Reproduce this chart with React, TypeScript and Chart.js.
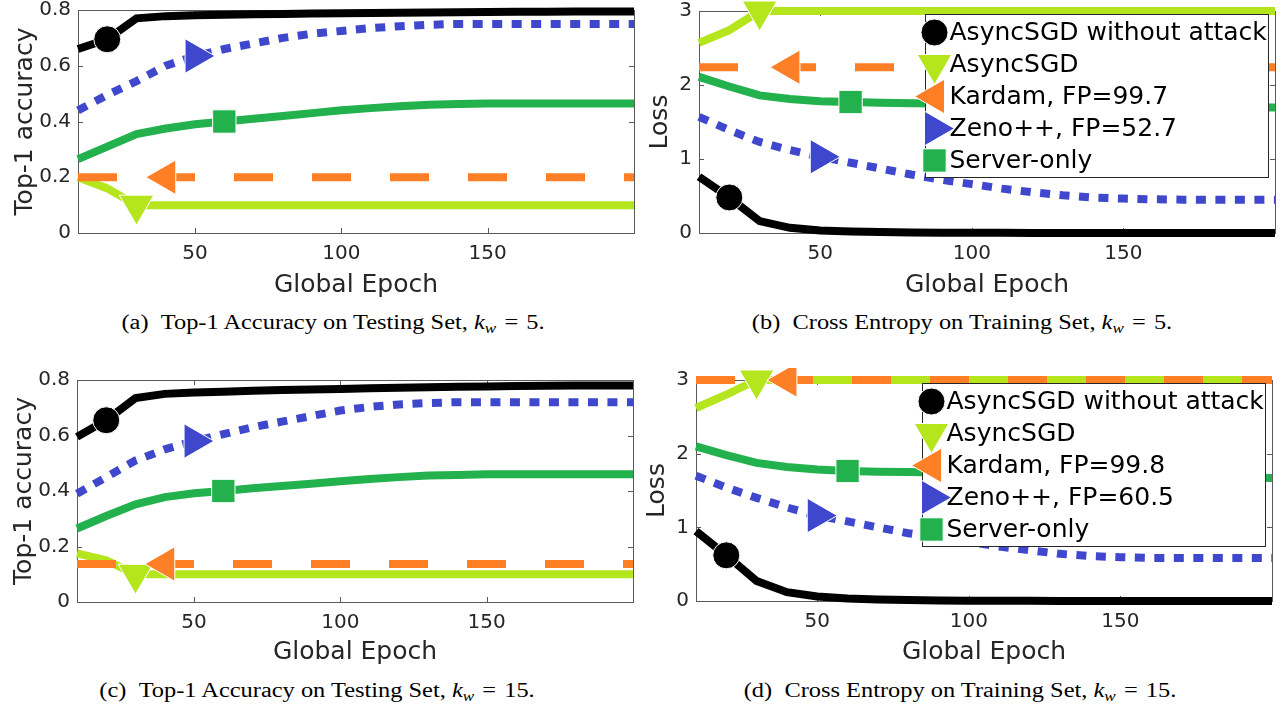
import React, { useEffect, useRef } from 'react';
import { Chart, registerables } from 'chart.js';

Chart.register(...registerables);
Chart.defaults.font.family = '"DejaVu Sans", sans-serif';

// ---------------- data ----------------
const epochs = [10, 20, 30, 40, 50, 60, 70, 80, 90, 100, 110, 120, 130, 140, 150, 160, 170, 180, 190, 200];
const epochTicks = [50, 100, 150];
const accuracyTicks = [0, 0.2, 0.4, 0.6, 0.8];
const lossTicks = [0, 1, 2, 3];
const markerEpochs = [20, 30, 40, 50, 60];

const labelsK5 = ['AsyncSGD without attack', 'AsyncSGD', 'Kardam, FP=99.7', 'Zeno++, FP=52.7', 'Server-only'];
const labelsK15 = ['AsyncSGD without attack', 'AsyncSGD', 'Kardam, FP=99.8', 'Zeno++, FP=60.5', 'Server-only'];

// (a) Top-1 accuracy, k_w = 5
const accK5NoAttack = [0.66, 0.695, 0.77, 0.778, 0.781, 0.783, 0.785, 0.786, 0.787, 0.788, 0.789, 0.79, 0.791, 0.792, 0.793, 0.794, 0.794, 0.795, 0.795, 0.795];
const accK5Async = [0.2, 0.16, 0.1, 0.1, 0.1, 0.1, 0.1, 0.1, 0.1, 0.1, 0.1, 0.1, 0.1, 0.1, 0.1, 0.1, 0.1, 0.1, 0.1, 0.1];
const accK5Kardam = [0.2, 0.2, 0.2, 0.2, 0.2, 0.2, 0.2, 0.2, 0.2, 0.2, 0.2, 0.2, 0.2, 0.2, 0.2, 0.2, 0.2, 0.2, 0.2, 0.2];
const accK5Zeno = [0.44, 0.495, 0.545, 0.6, 0.635, 0.66, 0.68, 0.7, 0.715, 0.725, 0.735, 0.742, 0.747, 0.75, 0.75, 0.75, 0.75, 0.75, 0.75, 0.75];
const accK5Server = [0.265, 0.31, 0.355, 0.375, 0.39, 0.4, 0.41, 0.42, 0.43, 0.44, 0.448, 0.455, 0.46, 0.463, 0.465, 0.465, 0.465, 0.465, 0.465, 0.465];

// (b) Loss, k_w = 5
const lossK5NoAttack = [0.76, 0.48, 0.16, 0.07, 0.035, 0.02, 0.012, 0.008, 0.005, 0.003, 0.002, 0.001, 0, 0, 0, 0, 0, 0, 0, 0];
const lossK5Async = [2.57, 2.74, 3, 3, 3, 3, 3, 3, 3, 3, 3, 3, 3, 3, 3, 3, 3, 3, 3, 3];
const lossK5Kardam = [2.24, 2.24, 2.24, 2.24, 2.24, 2.24, 2.24, 2.24, 2.24, 2.24, 2.24, 2.24, 2.24, 2.24, 2.24, 2.24, 2.24, 2.24, 2.24, 2.24];
const lossK5Zeno = [1.57, 1.39, 1.23, 1.12, 1.03, 0.95, 0.87, 0.79, 0.72, 0.66, 0.6, 0.55, 0.51, 0.48, 0.465, 0.455, 0.45, 0.45, 0.45, 0.45];
const lossK5Server = [2.11, 1.98, 1.86, 1.81, 1.78, 1.77, 1.76, 1.755, 1.75, 1.745, 1.74, 1.735, 1.73, 1.725, 1.72, 1.715, 1.71, 1.705, 1.7, 1.695];

// (c) Top-1 accuracy, k_w = 15
const accK15NoAttack = [0.595, 0.655, 0.735, 0.75, 0.755, 0.758, 0.761, 0.764, 0.766, 0.768, 0.77, 0.772, 0.774, 0.776, 0.777, 0.778, 0.779, 0.78, 0.78, 0.78];
const accK15Async = [0.175, 0.15, 0.1, 0.1, 0.1, 0.1, 0.1, 0.1, 0.1, 0.1, 0.1, 0.1, 0.1, 0.1, 0.1, 0.1, 0.1, 0.1, 0.1, 0.1];
const accK15Kardam = [0.137, 0.137, 0.137, 0.137, 0.137, 0.137, 0.137, 0.137, 0.137, 0.137, 0.137, 0.137, 0.137, 0.137, 0.137, 0.137, 0.137, 0.137, 0.137, 0.137];
const accK15Zeno = [0.39, 0.45, 0.51, 0.55, 0.58, 0.605, 0.63, 0.65, 0.67, 0.69, 0.703, 0.712, 0.717, 0.72, 0.72, 0.72, 0.72, 0.72, 0.72, 0.72];
const accK15Server = [0.265, 0.31, 0.352, 0.378, 0.392, 0.4, 0.41, 0.418, 0.426, 0.435, 0.443, 0.45, 0.456, 0.458, 0.46, 0.46, 0.46, 0.46, 0.46, 0.46];

// (d) Loss, k_w = 15
const lossK15NoAttack = [0.95, 0.62, 0.27, 0.12, 0.06, 0.035, 0.02, 0.012, 0.008, 0.005, 0.003, 0.002, 0.001, 0, 0, 0, 0, 0, 0, 0];
const lossK15Async = [2.62, 2.8, 3, 3, 3, 3, 3, 3, 3, 3, 3, 3, 3, 3, 3, 3, 3, 3, 3, 3];
const lossK15Kardam = [3, 3, 3, 3, 3, 3, 3, 3, 3, 3, 3, 3, 3, 3, 3, 3, 3, 3, 3, 3];
const lossK15Zeno = [1.7, 1.54, 1.4, 1.27, 1.16, 1.08, 1.0, 0.92, 0.86, 0.8, 0.74, 0.69, 0.64, 0.61, 0.595, 0.585, 0.585, 0.585, 0.585, 0.585];
const lossK15Server = [2.1, 1.98, 1.875, 1.82, 1.785, 1.765, 1.755, 1.75, 1.745, 1.74, 1.735, 1.73, 1.72, 1.71, 1.7, 1.695, 1.69, 1.68, 1.675, 1.67];

// ---------------- styles ----------------
type LineStyle = { color: string; dash: number[]; pointStyle: string; rotation: number; r: number; order: number };
const lineStyles: LineStyle[] = [
  { color: '#000000', dash: [], pointStyle: 'circle', rotation: 0, r: 13.5, order: 5 },
  { color: '#B5E61D', dash: [], pointStyle: 'triangle', rotation: 180, r: 20, order: 4 },
  { color: '#FF7F27', dash: [39, 39], pointStyle: 'triangle', rotation: 270, r: 20, order: 3 },
  { color: '#3F48CC', dash: [10, 9.5], pointStyle: 'triangle', rotation: 90, r: 20, order: 2 },
  { color: '#22B14C', dash: [], pointStyle: 'rect', rotation: 0, r: 16.5, order: 1 },
];

const AXIS_COLOR = '#262626';

type PanelDef = {
  letter: string;
  left: number; top: number; w: number; h: number;
  area: { l: number; r: number; t: number; b: number };
  yTicks: number[]; yMax: number; yTitle: string; yTitlePad: number; xTitlePad: number;
  series: number[][]; labels: string[]; legend: boolean;
  caption: string; kw: number; capX: number; capY: number;
};

const panels: PanelDef[] = [
  {
    letter: 'a', left: 0, top: 0, w: 640, h: 300, area: { l: 78, r: 634, t: 10, b: 233 },
    yTicks: accuracyTicks, yMax: 0.8, yTitle: 'Top-1 accuracy', yTitlePad: 10, xTitlePad: 0,
    series: [accK5NoAttack, accK5Async, accK5Kardam, accK5Zeno, accK5Server], labels: labelsK5, legend: false,
    caption: 'Top-1 Accuracy on Testing Set', kw: 5, capX: 333, capY: 322,
  },
  {
    letter: 'b', left: 640, top: 0, w: 646, h: 300, area: { l: 59, r: 635, t: 11, b: 233 },
    yTicks: lossTicks, yMax: 3, yTitle: 'Loss', yTitlePad: 5, xTitlePad: 0,
    series: [lossK5NoAttack, lossK5Async, lossK5Kardam, lossK5Zeno, lossK5Server], labels: labelsK5, legend: true,
    caption: 'Cross Entropy on Training Set', kw: 5, capX: 962, capY: 322,
  },
  {
    letter: 'c', left: 0, top: 368, w: 640, h: 300, area: { l: 77, r: 633, t: 12, b: 234 },
    yTicks: accuracyTicks, yMax: 0.8, yTitle: 'Top-1 accuracy', yTitlePad: 9, xTitlePad: 1,
    series: [accK15NoAttack, accK15Async, accK15Kardam, accK15Zeno, accK15Server], labels: labelsK15, legend: false,
    caption: 'Top-1 Accuracy on Testing Set', kw: 15, capX: 317, capY: 690,
  },
  {
    letter: 'd', left: 640, top: 368, w: 646, h: 300, area: { l: 56, r: 632, t: 12, b: 233 },
    yTicks: lossTicks, yMax: 3, yTitle: 'Loss', yTitlePad: 2, xTitlePad: 1,
    series: [lossK15NoAttack, lossK15Async, lossK15Kardam, lossK15Zeno, lossK15Server], labels: labelsK15, legend: true,
    caption: 'Cross Entropy on Training Set', kw: 15, capX: 960, capY: 690,
  },
];

function drawMarker(ctx: CanvasRenderingContext2D, st: LineStyle, x: number, y: number) {
  ctx.save();
  ctx.fillStyle = st.color;
  ctx.strokeStyle = '#ffffff';
  ctx.lineWidth = 1;
  ctx.setLineDash([]);
  ctx.beginPath();
  if (st.pointStyle === 'circle') {
    ctx.arc(x, y, st.r, 0, Math.PI * 2);
  } else if (st.pointStyle === 'rect') {
    const s = st.r * Math.SQRT1_2;
    ctx.rect(x - s, y - s, 2 * s, 2 * s);
  } else {
    let a = (st.rotation * Math.PI) / 180;
    for (let k = 0; k < 3; k++) {
      const px = x + Math.sin(a) * st.r;
      const py = y - Math.cos(a) * st.r;
      if (k === 0) ctx.moveTo(px, py);
      else ctx.lineTo(px, py);
      a += (2 * Math.PI) / 3;
    }
    ctx.closePath();
  }
  ctx.fill();
  ctx.stroke();
  ctx.restore();
}

function makePlugin(p: PanelDef) {
  return {
    id: 'matlabFrame' + p.letter,
    beforeDatasetsDraw(chart: any) {
      const { ctx, chartArea } = chart;
      const { left, right, top, bottom } = chartArea;
      const xs = chart.scales.x;
      const ys = chart.scales.y;
      ctx.save();
      ctx.strokeStyle = '#5a5a5a';
      ctx.lineWidth = 1;
      ctx.strokeRect(Math.round(left) + 0.5, Math.round(top) + 0.5, Math.round(right - left), Math.round(bottom - top));
      ctx.beginPath();
      const tl = 5;
      epochTicks.forEach((v) => {
        const px = Math.round(xs.getPixelForValue(v)) + 0.5;
        ctx.moveTo(px, bottom);
        ctx.lineTo(px, bottom - tl);
        ctx.moveTo(px, top);
        ctx.lineTo(px, top + tl);
      });
      p.yTicks.forEach((v) => {
        const py = Math.round(ys.getPixelForValue(v)) + 0.5;
        ctx.moveTo(left, py);
        ctx.lineTo(left + tl, py);
        ctx.moveTo(right, py);
        ctx.lineTo(right - tl, py);
      });
      ctx.stroke();
      ctx.restore();
    },
    afterDatasetsDraw(chart: any) {
      if (!p.legend) return;
      const { ctx, chartArea } = chart;
      const xs = chart.scales.x;
      const bx = Math.round(xs.getPixelForValue(84.5)) + 0.5;
      const bx2 = Math.round(xs.getPixelForValue(197.8)) + 0.5;
      const by = Math.round(chartArea.top) + 3.5;
      const bh = 163;
      ctx.save();
      ctx.fillStyle = '#ffffff';
      ctx.fillRect(bx, by, bx2 - bx, bh);
      ctx.strokeStyle = '#262626';
      ctx.lineWidth = 1;
      ctx.strokeRect(bx, by, bx2 - bx, bh);
      ctx.font = '25px "DejaVu Sans", sans-serif';
      ctx.textBaseline = 'middle';
      ctx.textAlign = 'left';
      p.labels.forEach((lab, i) => {
        const cy = by + 18 + 32 * i;
        drawMarker(ctx, lineStyles[i], bx + 9, cy);
        ctx.fillStyle = '#000000';
        ctx.fillText(lab, bx + 24, cy + 1);
      });
      ctx.restore();
    },
  };
}

function buildConfig(p: PanelDef): any {
  const datasets = p.series.map((vals, i) => {
    const st = lineStyles[i];
    const radii = epochs.map((e) => (e === markerEpochs[i] ? st.r : 0));
    return {
      label: p.labels[i],
      data: epochs.map((e, j) => ({ x: e, y: vals[j] })),
      borderColor: st.color,
      backgroundColor: st.color,
      borderWidth: 8,
      borderDash: st.dash,
      borderCapStyle: 'butt',
      borderJoinStyle: 'miter',
      pointRadius: radii,
      pointHoverRadius: radii,
      pointHitRadius: 0,
      pointStyle: st.pointStyle,
      pointRotation: st.rotation,
      pointBackgroundColor: st.color,
      pointBorderColor: '#ffffff',
      pointBorderWidth: 1,
      tension: 0,
      fill: false,
      clip: false,
      order: st.order,
    };
  });
  return {
    type: 'line',
    data: { datasets },
    options: {
      responsive: false,
      animation: false,
      events: [],
      layout: { padding: { left: 0, right: p.w - p.area.r, top: p.area.t, bottom: 0 }, autoPadding: false },
      plugins: { legend: { display: false }, tooltip: { enabled: false }, title: { display: false } },
      scales: {
        x: {
          type: 'linear',
          min: 10,
          max: 200,
          grid: { display: false, drawTicks: false },
          border: { display: false },
          afterBuildTicks: (axis: any) => {
            axis.ticks = epochTicks.map((v) => ({ value: v }));
          },
          afterFit: (axis: any) => {
            axis.height = p.h - p.area.b;
            axis.paddingLeft = 0;
            axis.paddingRight = 0;
            axis.paddingTop = 0;
            axis.paddingBottom = 0;
          },
          ticks: {
            padding: 9,
            color: AXIS_COLOR,
            font: { size: 20 },
            maxRotation: 0,
            autoSkip: false,
            callback: (v: any) => String(v),
          },
          title: {
            display: true,
            text: 'Global Epoch',
            color: AXIS_COLOR,
            font: { size: 25 },
            padding: { top: 0, bottom: p.xTitlePad },
          },
        },
        y: {
          type: 'linear',
          min: 0,
          max: p.yMax,
          grid: { display: false, drawTicks: false },
          border: { display: false },
          afterBuildTicks: (axis: any) => {
            axis.ticks = p.yTicks.map((v) => ({ value: v }));
          },
          afterFit: (axis: any) => {
            axis.width = p.area.l;
            axis.paddingLeft = 0;
            axis.paddingRight = 0;
            axis.paddingTop = 0;
            axis.paddingBottom = 0;
          },
          ticks: {
            padding: 7,
            color: AXIS_COLOR,
            font: { size: 20 },
            autoSkip: false,
            callback: (v: any) => String(v),
          },
          title: {
            display: true,
            text: p.yTitle,
            color: AXIS_COLOR,
            font: { size: 25 },
            padding: { top: p.yTitlePad, bottom: 0 },
          },
        },
      },
    },
    plugins: [makePlugin(p)],
  };
}

function Panel({ p }: { p: PanelDef }) {
  const ref = useRef<HTMLCanvasElement>(null);
  useEffect(() => {
    if (!ref.current) return;
    const chart = new Chart(ref.current, buildConfig(p));
    return () => chart.destroy();
  }, [p]);
  return (
    <canvas
      ref={ref}
      width={p.w}
      height={p.h}
      style={{ position: 'absolute', left: p.left, top: p.top, width: p.w, height: p.h }}
    />
  );
}

function Caption({ p }: { p: PanelDef }) {
  return (
    <div
      style={{
        position: 'absolute',
        left: p.capX - 320,
        top: p.capY - 12,
        width: 640,
        textAlign: 'center',
        fontFamily: '"Liberation Serif", "Times New Roman", serif',
        fontSize: 20,
        lineHeight: '24px',
        color: '#000',
        whiteSpace: 'nowrap',
        transform: 'scaleX(1.22)',
        transformOrigin: '50% 50%',
      }}
    >
      ({p.letter}){'\u2002'}{p.caption},{' '}
      <span style={{ fontStyle: 'italic' }}>k</span>
      <span style={{ fontStyle: 'italic', fontSize: 14, position: 'relative', top: 4 }}>w</span>
      {'\u2004=\u2004'}
      {p.kw}.
    </div>
  );
}

export default function App() {
  return (
    <div style={{ position: 'absolute', left: 0, top: 0, width: 1286, height: 713, background: '#fff', overflow: 'hidden' }}>
      {panels.map((p) => (
        <React.Fragment key={p.letter}>
          <Panel p={p} />
          <Caption p={p} />
        </React.Fragment>
      ))}
    </div>
  );
}
